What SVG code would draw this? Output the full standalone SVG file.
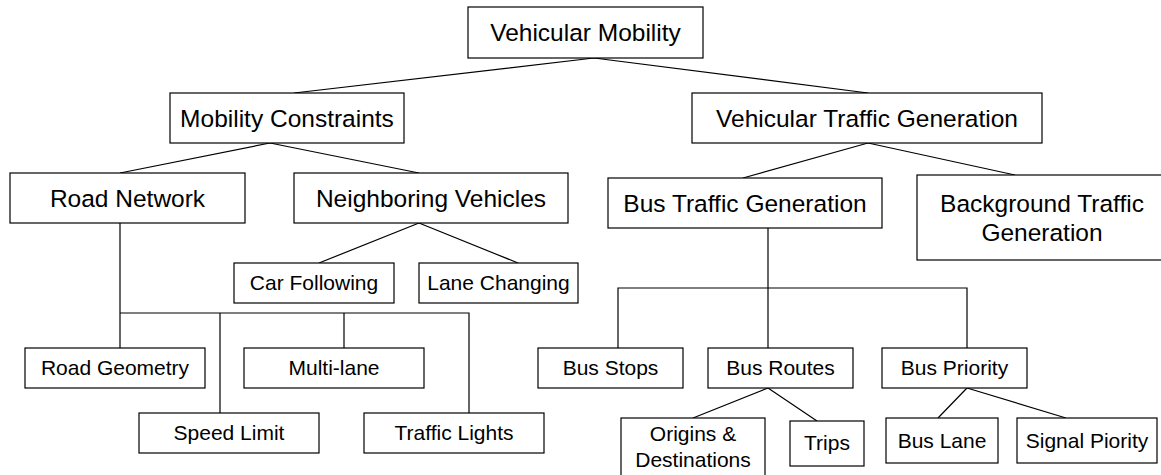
<svg xmlns="http://www.w3.org/2000/svg" width="1161" height="475" viewBox="0 0 1161 475">
<style>
.b{fill:#fff;stroke:#000;stroke-width:1.2}
.t{font-family:"Liberation Sans",Arial,sans-serif;fill:#000;text-anchor:middle}
.L{font-size:24.5px}
.S{font-size:21px}
.c{fill:none;stroke:#000;stroke-width:1.2}
</style>
<rect width="1161" height="475" fill="#fff"/>
<g id="connectors">
<path class="c" d="M594,58 L294,93 M594,58 L868,93"/>
<path class="c" d="M270,143 L120,173 M270,143 L419,173"/>
<path class="c" d="M419,223 L319,263 M419,223 L518,263"/>
<path class="c" d="M868,143 L743,178 M868,143 L1015,175"/>
<path class="c" d="M120,223 L120,348 M120,313 L469,313 L469,413 M220,313 L220,413 M344,313 L344,348"/>
<path class="c" d="M768,228 L768,348 M618,348 L618,288 L967,288 L967,348"/>
<path class="c" d="M768,388 L693,418 M768,388 L817,421"/>
<path class="c" d="M967,388 L938,418 M967,388 L1066,418"/>
</g>
<g id="vehicular-mobility"><rect class="b" x="468" y="7" width="235" height="51"/><text class="t L" x="585.5" y="40.5">Vehicular Mobility</text></g>
<g id="mobility-constraints"><rect class="b" x="170" y="93" width="234" height="50"/><text class="t L" x="287" y="126.5">Mobility Constraints</text></g>
<g id="vehicular-traffic-generation"><rect class="b" x="692" y="93" width="350" height="50"/><text class="t L" x="867" y="126.5">Vehicular Traffic Generation</text></g>
<g id="road-network"><rect class="b" x="10" y="173" width="235" height="50"/><text class="t L" x="127.5" y="206.5">Road Network</text></g>
<g id="neighboring-vehicles"><rect class="b" x="294" y="173" width="274" height="50"/><text class="t L" x="431" y="206.5">Neighboring Vehicles</text></g>
<g id="bus-traffic-generation"><rect class="b" x="608" y="178" width="274" height="50"/><text class="t L" x="745" y="211.5">Bus Traffic Generation</text></g>
<g id="background-traffic-generation"><rect class="b" x="917" y="175" width="250" height="85"/><text class="t L" x="1042" y="211.5">Background Traffic</text><text class="t L" x="1042" y="240.5">Generation</text></g>
<g id="car-following"><rect class="b" x="234" y="263" width="160" height="40"/><text class="t S" x="314" y="290">Car Following</text></g>
<g id="lane-changing"><rect class="b" x="419" y="263" width="159" height="40"/><text class="t S" x="498.5" y="290">Lane Changing</text></g>
<g id="road-geometry"><rect class="b" x="25" y="348" width="180" height="40"/><text class="t S" x="115" y="375">Road Geometry</text></g>
<g id="multi-lane"><rect class="b" x="244" y="348" width="180" height="40"/><text class="t S" x="334" y="375">Multi-lane</text></g>
<g id="speed-limit"><rect class="b" x="139" y="413" width="180" height="40"/><text class="t S" x="229" y="440">Speed Limit</text></g>
<g id="traffic-lights"><rect class="b" x="364" y="413" width="180" height="40"/><text class="t S" x="454" y="440">Traffic Lights</text></g>
<g id="bus-stops"><rect class="b" x="538" y="348" width="145" height="40"/><text class="t S" x="610.5" y="375">Bus Stops</text></g>
<g id="bus-routes"><rect class="b" x="708" y="348" width="145" height="40"/><text class="t S" x="780.5" y="375">Bus Routes</text></g>
<g id="bus-priority"><rect class="b" x="882" y="348" width="145" height="40"/><text class="t S" x="954.5" y="375">Bus Priority</text></g>
<g id="origins-destinations"><rect class="b" x="621" y="418" width="144" height="70"/><text class="t S" x="693" y="441">Origins &amp;</text><text class="t S" x="693" y="467">Destinations</text></g>
<g id="trips"><rect class="b" x="790" y="421" width="74" height="45"/><text class="t S" x="827" y="449.5">Trips</text></g>
<g id="bus-lane"><rect class="b" x="886" y="418" width="112" height="45"/><text class="t S" x="942" y="447.5">Bus Lane</text></g>
<g id="signal-piority"><rect class="b" x="1017" y="418" width="140" height="45"/><text class="t S" x="1087" y="447.5">Signal Piority</text></g>
</svg>
